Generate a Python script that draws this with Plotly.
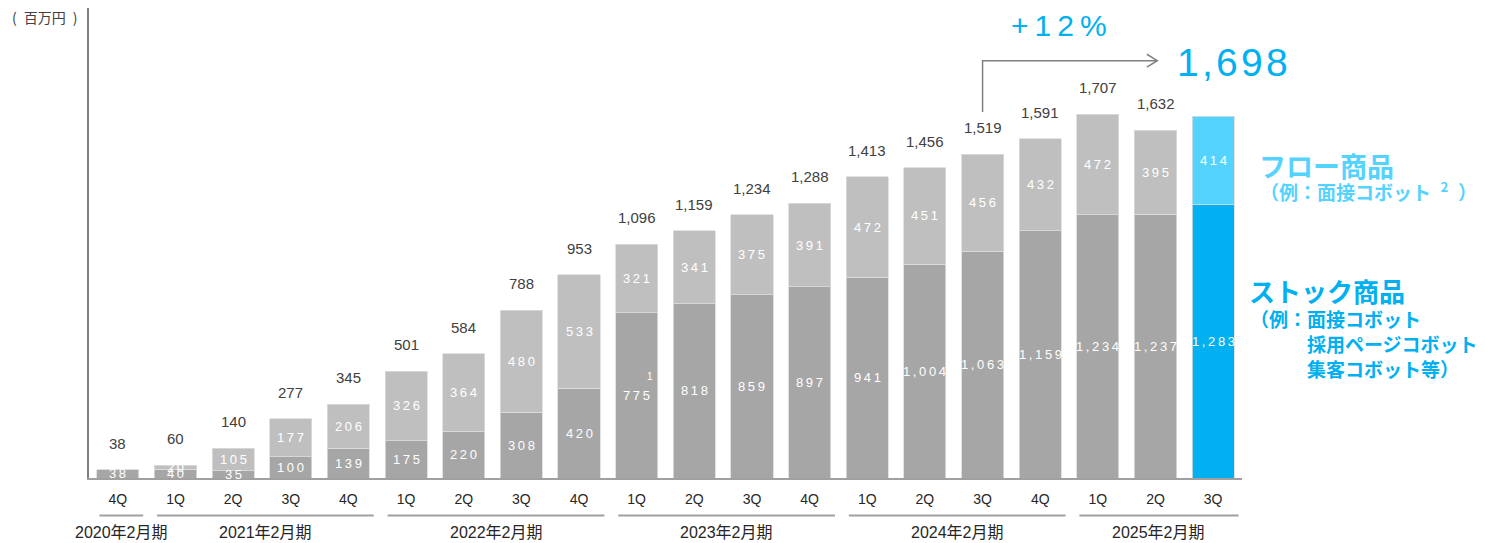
import plotly.graph_objects as go

# Quarterly revenue (million yen), split into stock and flow products
quarters = ["4Q", "1Q", "2Q", "3Q", "4Q", "1Q", "2Q", "3Q", "4Q", "1Q",
            "2Q", "3Q", "4Q", "1Q", "2Q", "3Q", "4Q", "1Q", "2Q", "3Q"]
stock = [38, 40, 35, 100, 139, 175, 220, 308, 420, 775,
         818, 859, 897, 941, 1004, 1063, 1159, 1234, 1237, 1283]
flow = [0, 20, 105, 177, 206, 326, 364, 480, 533, 321,
        341, 375, 391, 472, 451, 456, 432, 472, 395, 414]
totals = [38, 60, 140, 277, 345, 501, 584, 788, 953, 1096,
          1159, 1234, 1288, 1413, 1456, 1519, 1591, 1707, 1632, 1698]
fiscal_years = ["2020年2月期", "2021年2月期", "2022年2月期",
                "2023年2月期", "2024年2月期", "2025年2月期"]
year_sizes = [1, 4, 4, 4, 4, 3]
compare_index = 15  # same quarter of the previous fiscal year

GRAY_STOCK = "#a6a6a6"
GRAY_FLOW = "#bfbfbf"
BLUE_STOCK = "#00b0f0"
BLUE_FLOW = "#55d3ff"
TEXT = "#404040"
LATIN = "Liberation Sans, Arial, Noto Sans CJK JP"
CJK = "Noto Sans CJK JP, Liberation Sans"

n = len(quarters)
xs = list(range(n))
last = n - 1


def spaced(s, sep="\u2009"):
    return sep.join(s)


stock_colors = [BLUE_STOCK if i == last else GRAY_STOCK for i in xs]
flow_colors = [BLUE_FLOW if i == last else GRAY_FLOW for i in xs]

fig = go.Figure()
fig.add_trace(go.Bar(x=xs, y=stock, name="ストック商品", width=0.73,
                     marker=dict(color=stock_colors,
                                 line=dict(color="#dcdcdc", width=0.8)),
                     hoverinfo="skip"))
fig.add_trace(go.Bar(x=xs, y=flow, name="フロー商品", width=0.73,
                     marker=dict(color=flow_colors,
                                 line=dict(color="#dcdcdc", width=0.8)),
                     hoverinfo="skip"))

ann = []
shapes = []


def paper_text(x, y, text, font, xanchor="left", yanchor="middle"):
    ann.append(dict(x=x, y=y, xref="paper", yref="paper", text=text,
                    showarrow=False, xanchor=xanchor, yanchor=yanchor,
                    font=font))


# Segment values inside bars
for i in xs:
    ann.append(dict(x=i, y=stock[i] / 2, xref="x", yref="y",
                    text=spaced(f"{stock[i]:,}"), showarrow=False,
                    xanchor="center", yanchor="middle",
                    font=dict(family=LATIN, size=13, color="white")))
    if flow[i] > 0:
        ann.append(dict(x=i, y=stock[i] + flow[i] / 2, xref="x", yref="y",
                        text=spaced(f"{flow[i]:,}"), showarrow=False,
                        xanchor="center", yanchor="middle",
                        font=dict(family=LATIN, size=13, color="white")))
    if i != last:
        ann.append(dict(x=i, y=stock[i] + flow[i], xref="x", yref="y",
                        text=f"{totals[i]:,}", showarrow=False,
                        xanchor="center", yanchor="bottom", yshift=16,
                        font=dict(family=LATIN, size=15, color=TEXT)))

# Footnote marker on the first quarter of FY2023
ann.append(dict(x=9, y=stock[9] / 2, xref="x", yref="y", text="1",
                showarrow=False, xshift=13, yshift=19,
                xanchor="center", yanchor="middle",
                font=dict(family=LATIN, size=10, color="white")))

# Unit label
paper_text(-0.039, 0.981, "(\u2002百万円\u2002)",
           dict(family=CJK, size=14, color=TEXT), xanchor="center")

# Fiscal-year brackets under the quarter labels
start = 0
for label, size in zip(fiscal_years, year_sizes):
    end = start + size - 1
    x0, x1 = start - 0.32, end + 0.44
    shapes.append(dict(type="line", xref="x", yref="paper",
                       x0=x0, x1=x1, y0=-0.0799, y1=-0.0799,
                       line=dict(color="#a0a0a0", width=2)))
    ann.append(dict(x=(x0 + x1) / 2, y=-0.1164, xref="x", yref="paper",
                    text=label, showarrow=False,
                    xanchor="center", yanchor="middle",
                    font=dict(family=LATIN, size=16, color="#262626")))
    start += size

# Year-over-year growth arrow
growth = round((totals[last] / totals[compare_index] - 1) * 100)
arrow_y = 1958
arrow_end = 18.03
shapes.append(dict(type="path", xref="x", yref="y",
                   path=f"M {compare_index},{totals[compare_index] + 198} "
                        f"L {compare_index},{arrow_y} L {arrow_end},{arrow_y}",
                   line=dict(color="#808080", width=1.5)))
shapes.append(dict(type="path", xref="x", yref="y",
                   path=f"M {arrow_end - 0.18},{arrow_y + 30} "
                        f"L {arrow_end},{arrow_y} L {arrow_end - 0.18},{arrow_y - 30}",
                   line=dict(color="#808080", width=1.5)))
paper_text(0.8413, 0.9638, spaced(f"+{growth}%"),
           dict(family=LATIN, size=30, color=BLUE_STOCK), xanchor="center")
paper_text(0.9419, 0.885, spaced(f"{totals[last]:,}", "\u200a"),
           dict(family=LATIN, size=39, color=BLUE_STOCK))

# Product category legend text
paper_text(1.013, 0.6656, "<b>フロー商品</b>",
           dict(family=CJK, size=27, color=BLUE_FLOW))
paper_text(1.0139, 0.6102,
           "<b>（例：面接コボット\u2002<sup>2</sup>\u2002）</b>",
           dict(family=CJK, size=19, color=BLUE_FLOW))
paper_text(1.0044, 0.3994, "<b>ストック商品</b>",
           dict(family=CJK, size=26, color=BLUE_STOCK))
stock_examples = [("（例：面接コボット", 1.0052, 0.3397),
                  ("採用ページコボット", 1.0546, 0.2865),
                  ("集客コボット等）", 1.0546, 0.2332)]
for txt, px, py in stock_examples:
    paper_text(px, py, f"<b>{txt}</b>",
               dict(family=CJK, size=19, color=BLUE_STOCK))

fig.update_layout(
    barmode="stack",
    width=1485, height=543,
    margin=dict(l=89, r=243, t=8, b=65),
    paper_bgcolor="white", plot_bgcolor="white",
    showlegend=False,
    annotations=ann,
    shapes=shapes,
    xaxis=dict(range=[-0.5, n - 0.5], tickmode="array", tickvals=xs,
               ticktext=quarters, showline=True, linecolor="#a0a0a0",
               linewidth=2, ticks="", showgrid=False, zeroline=False,
               ticklabelstandoff=7,
               tickfont=dict(family=LATIN, size=14, color="#262626")),
    yaxis=dict(range=[0, 2205], showline=True, linecolor="#808080",
               linewidth=1.5, showticklabels=False, ticks="",
               showgrid=False, zeroline=False),
)

fig.write_html("out.html")
